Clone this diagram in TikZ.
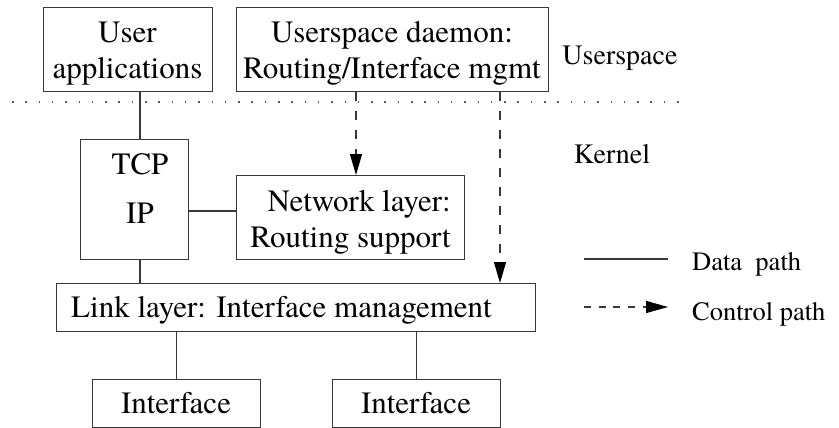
\documentclass[tikz,border=0pt]{standalone}
\usepackage{fontspec}
\setmainfont{texgyretermes}[Extension=.otf, UprightFont=*-regular, BoldFont=*-bold, ItalicFont=*-italic, BoldItalicFont=*-bolditalic]
\usetikzlibrary{arrows.meta}
\begin{document}
\begin{tikzpicture}[x=1pt,y=-1pt,
  box/.style={draw=black!78, line width=1.3pt, inner sep=0pt, anchor=north west},
  txt/.style={inner sep=0pt, anchor=base, font=\fontsize{31}{35}\selectfont},
  lbl/.style={inner sep=0pt, anchor=base, font=\fontsize{28}{32}\selectfont},
  leg/.style={inner sep=0pt, anchor=base west, font=\fontsize{26.5}{30}\selectfont},
  data/.style={draw=black!78, line width=1.3pt},
  ctrl/.style={draw=black!78, line width=1.3pt, dash pattern=on 9pt off 10pt,
     -{Triangle[length=21pt,width=12pt,black]}},
  legctrl/.style={draw=black!78, line width=1.3pt, dash pattern=on 7pt off 7.7pt,
     -{Triangle[length=22pt,width=12pt,black]}},
  sep/.style={draw=black!65, line width=1.4pt, dash pattern=on 1.5pt off 11.8pt},
]
\useasboundingbox (0,0) rectangle (839,428);

% boxes
\node[box, minimum width=169pt, minimum height=84pt] (ua) at (43,7) {};
\node[box, minimum width=312pt, minimum height=84pt] (ud) at (236,7) {};
\node[box, minimum width=108pt, minimum height=120pt] (tcp) at (80,139) {};
\node[box, minimum width=228pt, minimum height=84pt] (nl) at (236,175) {};
\node[box, minimum width=479pt, minimum height=48pt] (ll) at (56,283) {};
\node[box, minimum width=168pt, minimum height=48pt] (if1) at (92,379) {};
\node[box, minimum width=168pt, minimum height=48pt] (if2) at (332,379) {};

% texts
\node[txt] (t1) at (127.5,43) {User};
\node[txt] (t2) at (127.5,79) {applications};
\node[txt] (t3) at (392,43) {Userspace daemon:};
\node[txt] (t4) at (392,79) {Routing/Interface mgmt};
\node[txt] (t5) at (140,175) {TCP};
\node[txt] (t6) at (140,223) {IP};
\node[txt, anchor=base east] (t7) at (451,211) {Network layer:};
\node[txt, anchor=base east] (t8) at (451,247) {Routing support};
\node[txt, anchor=base west] (t9) at (71,317) {Link layer: Interface management};
\node[txt] (t10) at (176,413) {Interface};
\node[txt] (t11) at (416,413) {Interface};
\node[lbl] (us) at (620,65) {Userspace};
\node[lbl] (kn) at (612,163) {Kernel};

% separator
\coordinate (s1) at (12,102);
\coordinate (s2) at (686,102);
\draw[sep] (s1) -- (s2);

% data paths
\coordinate (cx) at (140,211);
\draw[data] (ua.south -| cx) -- (tcp.north -| cx);
\draw[data] (tcp.south -| cx) -- (ll.north -| cx);
\draw[data] (tcp.east |- cx) -- (nl.west |- cx);
\draw[data] (ll.south -| if1.north) -- (if1.north);
\draw[data] (ll.south -| if2.north) -- (if2.north);

% control paths
\coordinate (k1) at (356,0);
\coordinate (k2) at (500,0);
\draw[ctrl] (ud.south -| k1) -- (nl.north -| k1);
\draw[ctrl] (ud.south -| k2) -- (ll.north -| k2);

% legend
\coordinate (d1) at (584,259);
\coordinate (d2) at (668,259);
\draw[data] (d1) -- (d2);
\node[leg] (dl) at (692,270) {Data\ \ path};
\coordinate (e1) at (584,307);
\coordinate (e2) at (668,307);
\draw[legctrl] (e1) -- (e2);
\node[leg] (cl) at (692,320) {Control path};
\end{tikzpicture}
\end{document}
